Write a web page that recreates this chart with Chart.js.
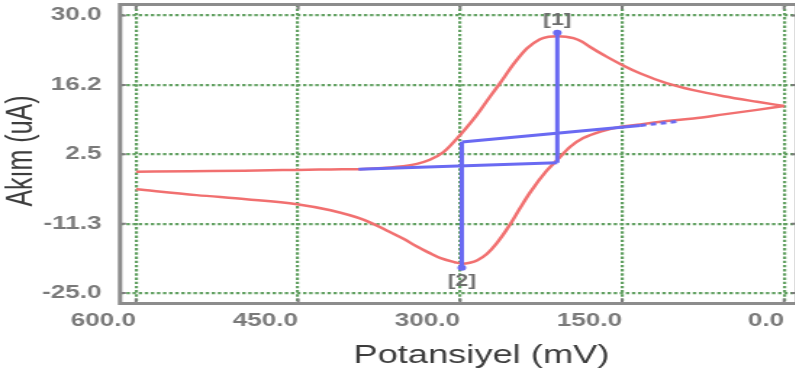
<!DOCTYPE html>
<html>
<head>
<meta charset="utf-8">
<script src="https://cdn.jsdelivr.net/npm/chart.js@4.4.0/dist/chart.umd.min.js"></script>
<style>
  html, body { margin: 0; padding: 0; background: #fff; overflow: hidden; }
  #wrap { width: 795px; height: 381px; overflow: hidden; }
  /* the plot is drawn narrow and widened afterwards */
  #stretch { width: 552px; height: 381px; transform: scale(1.45, 1); transform-origin: 0 0; }
</style>
</head>
<body>
<div id="wrap"><div id="stretch"><canvas id="cv" width="552" height="381"></canvas></div></div>
<script>
// ileri tarama (600 -> 0 mV)
const fwdV = [600, 550, 500, 451, 420, 389, 358, 340, 328, 315, 300, 290, 281, 272, 263, 250, 238, 226, 218, 210, 202, 195, 187, 180, 164, 150, 133, 109, 84, 56, 25, 0];
const fwdI = [-0.96, -0.85, -0.75, -0.6, -0.5, -0.4, 0.03, 0.6, 1.4, 3.0, 6.3, 8.8, 11.3, 14.0, 16.6, 20.5, 23.5, 25.3, 25.8, 25.9, 25.8, 25.5, 24.8, 23.8, 21.8, 20.2, 18.5, 16.6, 15.2, 14.0, 12.9, 12.06];
// geri tarama (0 -> 600 mV)
const revV = [0, 25, 56, 84, 109, 133, 150, 170, 186, 198, 210, 220, 235, 244, 254, 266, 275, 284, 291, 298, 305, 318, 329, 340, 352, 365, 389, 420, 451, 498, 544, 600];
const revI = [12.06, 11.3, 10.4, 9.6, 9.1, 8.4, 8.0, 7.0, 5.7, 4.0, 1.4, -0.8, -5.0, -8.0, -11.5, -15.1, -17.2, -18.5, -19.0, -19.2, -18.9, -18.1, -17.0, -15.8, -14.3, -12.9, -10.5, -8.6, -7.4, -6.4, -5.6, -4.45];

// pik taban çizgileri ve pik yükseklikleri
const base1V = [394, 210], base1I = [-0.45, 0.8];
const peak1V = [210, 210], peak1I = [0.8, 26.6];
const base2V = [298.4, 133], base2I = [4.94, 8.2];
const ext2V = [133, 99], ext2I = [8.2, 9.0];
const peak2V = [298.4, 298.4], peak2I = [4.94, -20.0];
const markV = [210, 298.4], markI = [26.6, -20.0];
const markText = ['[1]', '[2]'];

// eksenler
const xTicks = [0, 150, 300, 450, 600];
const yTicks = [-25, -11.25, 2.5, 16.25, 30];
const yTickText = ['-25.0', '-11.3', '2.5', '16.2', '30.0'];
const xTitle = 'Potansiyel (mV)';
const yTitle = 'Akım (uA)';

const pts = (xs, ys) => xs.map((v, i) => ({x: v, y: ys[i]}));

const RED = '#f17070';
const BLUE = '#6a6af2';
const GRID = '#62a062';
const FONT = '"Liberation Sans", Arial, sans-serif';

// eksen kutusunu sabitle, etiket taşması için ek boşluk bırakma
const fixBox = (w, h) => s => {
  if (w) s.width = w;
  if (h) s.height = h;
  s.paddingTop = s.paddingBottom = s.paddingLeft = s.paddingRight = 0;
};

const decor = {
  id: 'decor',
  afterDraw(chart) {
    const {ctx, chartArea: a, scales: {x, y}} = chart;
    ctx.save();
    // kısa iç tik çizgileri
    ctx.strokeStyle = '#7c7c7c';
    ctx.lineWidth = 2;
    ctx.beginPath();
    xTicks.forEach(v => {
      const px = x.getPixelForValue(v);
      ctx.moveTo(px, a.top); ctx.lineTo(px, a.top + 5);
      ctx.moveTo(px, a.bottom); ctx.lineTo(px, a.bottom - 5);
    });
    yTicks.forEach(v => {
      const py = y.getPixelForValue(v);
      ctx.moveTo(a.left, py); ctx.lineTo(a.left + 4, py);
      ctx.moveTo(a.right, py); ctx.lineTo(a.right - 4, py);
    });
    ctx.stroke();
    // çerçeve
    ctx.strokeStyle = '#8c8c8c';
    ctx.lineWidth = 3;
    ctx.strokeRect(a.left, a.top, a.right - a.left, a.bottom - a.top);
    // pik etiketleri
    ctx.fillStyle = '#6e6e6e';
    ctx.font = 'bold 16px ' + FONT;
    ctx.textAlign = 'center';
    ctx.textBaseline = 'middle';
    ctx.fillText(markText[0], x.getPixelForValue(markV[0]), y.getPixelForValue(markI[0]) - 12);
    ctx.fillText(markText[1], x.getPixelForValue(markV[1]), y.getPixelForValue(markI[1]) + 13.5);
    // eksen başlıkları
    ctx.fillStyle = '#3d3d3d';
    ctx.font = '25px ' + FONT;
    ctx.fillText(xTitle, 332, 356);
    ctx.translate(15, 151);
    ctx.rotate(-Math.PI / 2);
    ctx.fillText(yTitle, 0, 0);
    ctx.restore();
  }
};

const blue = (data, extra) => Object.assign({
  data: data, borderColor: BLUE, borderWidth: 3, tension: 0, pointRadius: 0
}, extra || {});

const red = data => ({
  data: data, borderColor: RED, borderWidth: 2.5, cubicInterpolationMode: 'monotone', pointRadius: 0
});

new Chart(document.getElementById('cv'), {
  type: 'line',
  data: {
    datasets: [
      blue(pts(markV, markI), {showLine: false, pointRadius: 3, pointBackgroundColor: BLUE, pointBorderWidth: 0}),
      blue(pts(peak1V, peak1I)),
      blue(pts(peak2V, peak2I)),
      blue(pts(base1V, base1I)),
      blue(pts(base2V, base2I)),
      blue(pts(ext2V, ext2I), {borderDash: [4, 3]}),
      red(pts(fwdV, fwdI)),
      red(pts(revV, revI))
    ]
  },
  options: {
    responsive: false,
    animation: false,
    devicePixelRatio: 1,
    layout: { autoPadding: false, padding: { top: 4.5, right: 2.3, bottom: 0, left: 0 } },
    plugins: { legend: { display: false }, tooltip: { enabled: false } },
    scales: {
      x: {
        type: 'linear',
        reverse: true,
        min: -12,
        max: 614.8,
        afterFit: fixBox(0, 77.5),
        afterBuildTicks: s => { s.ticks = xTicks.map(v => ({value: v})); },
        grid: { color: GRID, lineWidth: 2.2, drawTicks: false },
        border: { display: false, dash: [2.4, 1.8] },
        ticks: {
          align: 'end',
          padding: 6.5,
          color: '#7a7a7a',
          font: { family: FONT, size: 18, weight: 'bold' },
          callback: v => v.toFixed(1)
        }
      },
      y: {
        min: -27.08,
        max: 32.18,
        afterFit: fixBox(82.8, 0),
        afterBuildTicks: s => { s.ticks = yTicks.map(v => ({value: v})); },
        grid: { color: GRID, lineWidth: 2.2, drawTicks: false },
        border: { display: false, dash: [2.4, 1.8] },
        ticks: {
          padding: 12.7,
          color: '#7a7a7a',
          font: { family: FONT, size: 18, weight: 'bold' },
          callback: v => yTickText[yTicks.indexOf(v)]
        }
      }
    }
  },
  plugins: [decor]
});
</script>
</body>
</html>
